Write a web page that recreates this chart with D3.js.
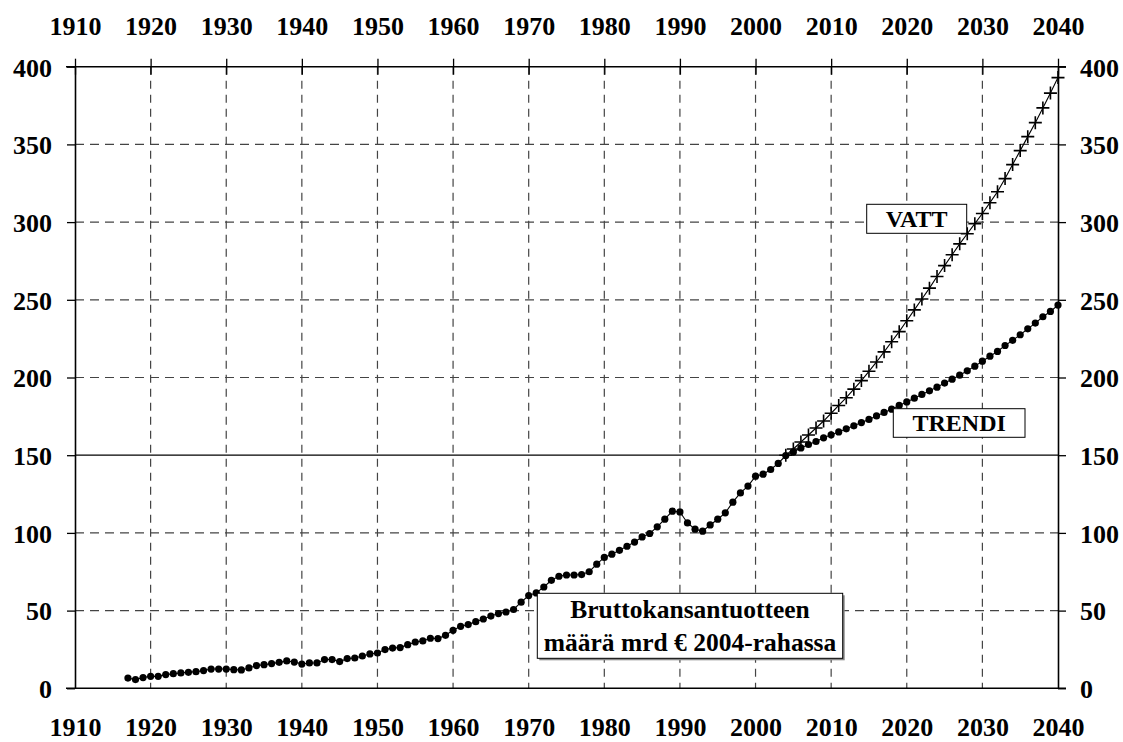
<!DOCTYPE html>
<html>
<head>
<meta charset="utf-8">
<script src="https://cdn.jsdelivr.net/npm/d3@7"></script>
<style>
  html, body { margin: 0; padding: 0; background: #fff; }
  svg { display: block; }
  text { font-family: "Liberation Serif", "Times New Roman", serif; font-weight: bold; fill: #000; }
</style>
</head>
<body>
<svg id="chart" width="1123" height="742"></svg>
<script>
// ---------- DATA ----------
const trendStartYear = 1917;
const trendValues = [
  6.6, 5.6, 6.9, 7.7, 7.7, 8.8, 9.4, 9.9, 10.3, 10.7,          // 1917-1926
  11.4, 12.4, 12.4, 12.4, 12.0, 11.8, 13.1, 14.6, 15.2, 15.9,  // 1927-1936
  16.7, 17.6, 16.9, 15.6, 16.3, 16.3, 18.5, 18.5, 17.2, 19.1,  // 1937-1946
  19.5, 20.8, 22.1, 22.7, 24.9, 25.9, 26.2, 28.1, 29.8, 30.5,  // 1947-1956
  32.2, 32.0, 34.1, 37.3, 39.9, 41.0, 42.9, 44.6, 46.5, 48.1,  // 1957-1966
  49.1, 50.7, 55.4, 59.7, 61.4, 65.2, 69.5, 72.1, 72.9, 72.9,  // 1967-1976
  73.2, 75.0, 79.9, 84.2, 86.3, 88.8, 91.4, 94.1, 97.4, 99.6,  // 1977-1986
  103.9, 108.8, 114.0, 113.5, 106.4, 102.4, 101.1, 105.1, 108.8, 112.9, // 1987-1996
  119.8, 125.7, 130.1, 136.5, 137.8, 140.8, 144.7, 149.8, 152.1, 154.7, // 1997-2006
  156.9, 158.8, 161.2, 163.1, 165.0, 167.0, 168.9, 171.0, 173.0, 175.3, // 2007-2016
  177.5, 179.6, 182.0, 184.3, 186.7, 189.1, 191.4, 193.8, 196.4, 198.9, // 2017-2026
  201.5, 204.3, 207.3, 210.5, 213.7, 216.8, 220.6, 223.9, 227.5, 231.3, // 2027-2036
  235.0, 239.1, 242.5, 246.6                                    // 2037-2040
];
const vattStartYear = 2004;
const vattValues = [
  150.0, 154.0, 158.5, 163.0, 167.5, 172.0, 177.0, 182.0, 187.0, 192.5, // 2004-2013
  198.0, 204.0, 210.0, 216.5, 223.0, 229.5, 236.5, 243.5, 250.5, 257.5, // 2014-2023
  265.0, 272.0, 279.0, 286.0, 292.5, 299.0, 305.5, 312.5, 319.5, 328.0, // 2024-2033
  337.0, 346.0, 355.0, 364.0, 373.5, 383.0, 393.0                      // 2034-2040
];
const xTickYears = [1910, 1920, 1930, 1940, 1950, 1960, 1970, 1980, 1990, 2000, 2010, 2020, 2030, 2040];
const yTickValues = [0, 50, 100, 150, 200, 250, 300, 350, 400];
const labelVatt = "VATT";
const labelTrend = "TRENDI";
const noteLines = ["Bruttokansantuotteen", "määrä mrd € 2004-rahassa"];

(function () {
// ---------- BUILD ----------
const trend = trendValues.map((v, i) => ({ year: trendStartYear + i, value: v }));
const vatt = vattValues.map((v, i) => ({ year: vattStartYear + i, value: v }));

const svg = d3.select("#chart");
svg.append("rect").attr("width", 1123).attr("height", 742).attr("fill", "#fff");

const pL = 75, pR = 1058, pT = 66.7, pB = 688.3;
const x = d3.scaleLinear().domain([1910, 2040]).range([pL, pR]);
const y = d3.scaleLinear().domain([0, 400]).range([pB, pT]);

// gridlines
const grid = svg.append("g");
grid.selectAll("line.v").data(xTickYears.filter(t => t > 1910 && t < 2040)).join("line")
  .attr("x1", d => x(d)).attr("x2", d => x(d))
  .attr("y1", pT).attr("y2", pB)
  .attr("stroke", "#444").attr("stroke-width", 1.2).attr("stroke-dasharray", "8,6");
grid.selectAll("line.h").data(yTickValues.filter(t => t > 0 && t < 400)).join("line")
  .attr("x1", pL).attr("x2", pR)
  .attr("y1", d => y(d)).attr("y2", d => y(d))
  .attr("stroke", d => d === 150 ? "#000" : "#444")
  .attr("stroke-width", d => d === 150 ? 1.3 : 1.2)
  .attr("stroke-dasharray", d => d === 150 ? null : "9,6");

// axes (frame + ticks + labels)
const fontSize = 26;
const axLeft = svg.append("g").attr("transform", `translate(${pL},0)`)
  .call(d3.axisLeft(y).tickValues(yTickValues).tickSize(8).tickPadding(15).tickSizeOuter(0));
const axRight = svg.append("g").attr("transform", `translate(${pR},0)`)
  .call(d3.axisRight(y).tickValues(yTickValues).tickSize(8).tickPadding(14).tickSizeOuter(0));
const axTop = svg.append("g").attr("transform", `translate(0,${pT})`)
  .call(d3.axisTop(x).tickValues(xTickYears).tickFormat(d3.format("d")).tickSize(8).tickPadding(24).tickSizeOuter(0));
const axBottom = svg.append("g").attr("transform", `translate(0,${pB})`)
  .call(d3.axisBottom(x).tickValues(xTickYears).tickFormat(d3.format("d")).tickSize(0).tickPadding(29).tickSizeOuter(0));

[axLeft, axRight, axTop, axBottom].forEach(g => {
  g.selectAll("text").style("font-size", fontSize + "px").style("font-family", "'Liberation Serif', 'Times New Roman', serif").style("font-weight", "bold").attr("fill", "#000");
  g.selectAll("line").attr("stroke", "#000").attr("stroke-width", 1.3);
  g.select(".domain").attr("stroke", "#000").attr("stroke-width", 1.6);
});
axLeft.selectAll("text").attr("dy", "0.36em");
axRight.selectAll("text").attr("dy", "0.36em");
axTop.selectAll(".tick line").attr("y1", 8);
axTop.select(".domain").attr("d", `M${pL - 9},0H${pR + 8}`);
axBottom.select(".domain").attr("d", `M${pL - 9},0H${pR + 8}`);

// ---------- SERIES ----------
const line = d3.line().x(d => x(d.year)).y(d => y(d.value));

svg.append("path").datum(vatt).attr("d", line)
  .attr("fill", "none").attr("stroke", "#000").attr("stroke-width", 1.1);
svg.append("g").selectAll("path").data(vatt).join("path")
  .attr("transform", d => `translate(${x(d.year)},${y(d.value)})`)
  .attr("d", "M-6.5,0H6.5M0,-6.5V6.5")
  .attr("stroke", "#000").attr("stroke-width", 1.6).attr("fill", "none");

svg.append("path").datum(trend).attr("d", line)
  .attr("fill", "none").attr("stroke", "#000").attr("stroke-width", 1.1);
svg.append("g").selectAll("circle").data(trend).join("circle")
  .attr("cx", d => x(d.year)).attr("cy", d => y(d.value)).attr("r", 3.6)
  .attr("fill", "#000");

// ---------- LABEL BOXES ----------
function box(x0, y0, w, h, lines, fs, lineGap, shadow) {
  const g = svg.append("g");
  if (shadow) {
    g.append("rect").attr("x", x0 + 2).attr("y", y0 + 2).attr("width", w).attr("height", h).attr("fill", "#888");
  }
  g.append("rect").attr("x", x0).attr("y", y0).attr("width", w).attr("height", h)
    .attr("fill", "#fff").attr("stroke", "#000").attr("stroke-width", 1);
  const cy0 = y0 + h / 2 - (lines.length - 1) * lineGap / 2;
  g.selectAll("text").data(lines).join("text")
    .attr("x", x0 + w / 2).attr("y", (d, i) => cy0 + i * lineGap)
    .attr("text-anchor", "middle").attr("dy", "0.34em")
    .style("font-size", fs + "px").text(d => d);
}
box(866.7, 204.3, 100, 29, [labelVatt], 24, 0, false);
box(893.3, 408.7, 131.7, 28.6, [labelTrend], 24, 0, false);
box(537.3, 593.3, 305.4, 65, noteLines, 25.5, 32.6, true);
})();
</script>
</body>
</html>
